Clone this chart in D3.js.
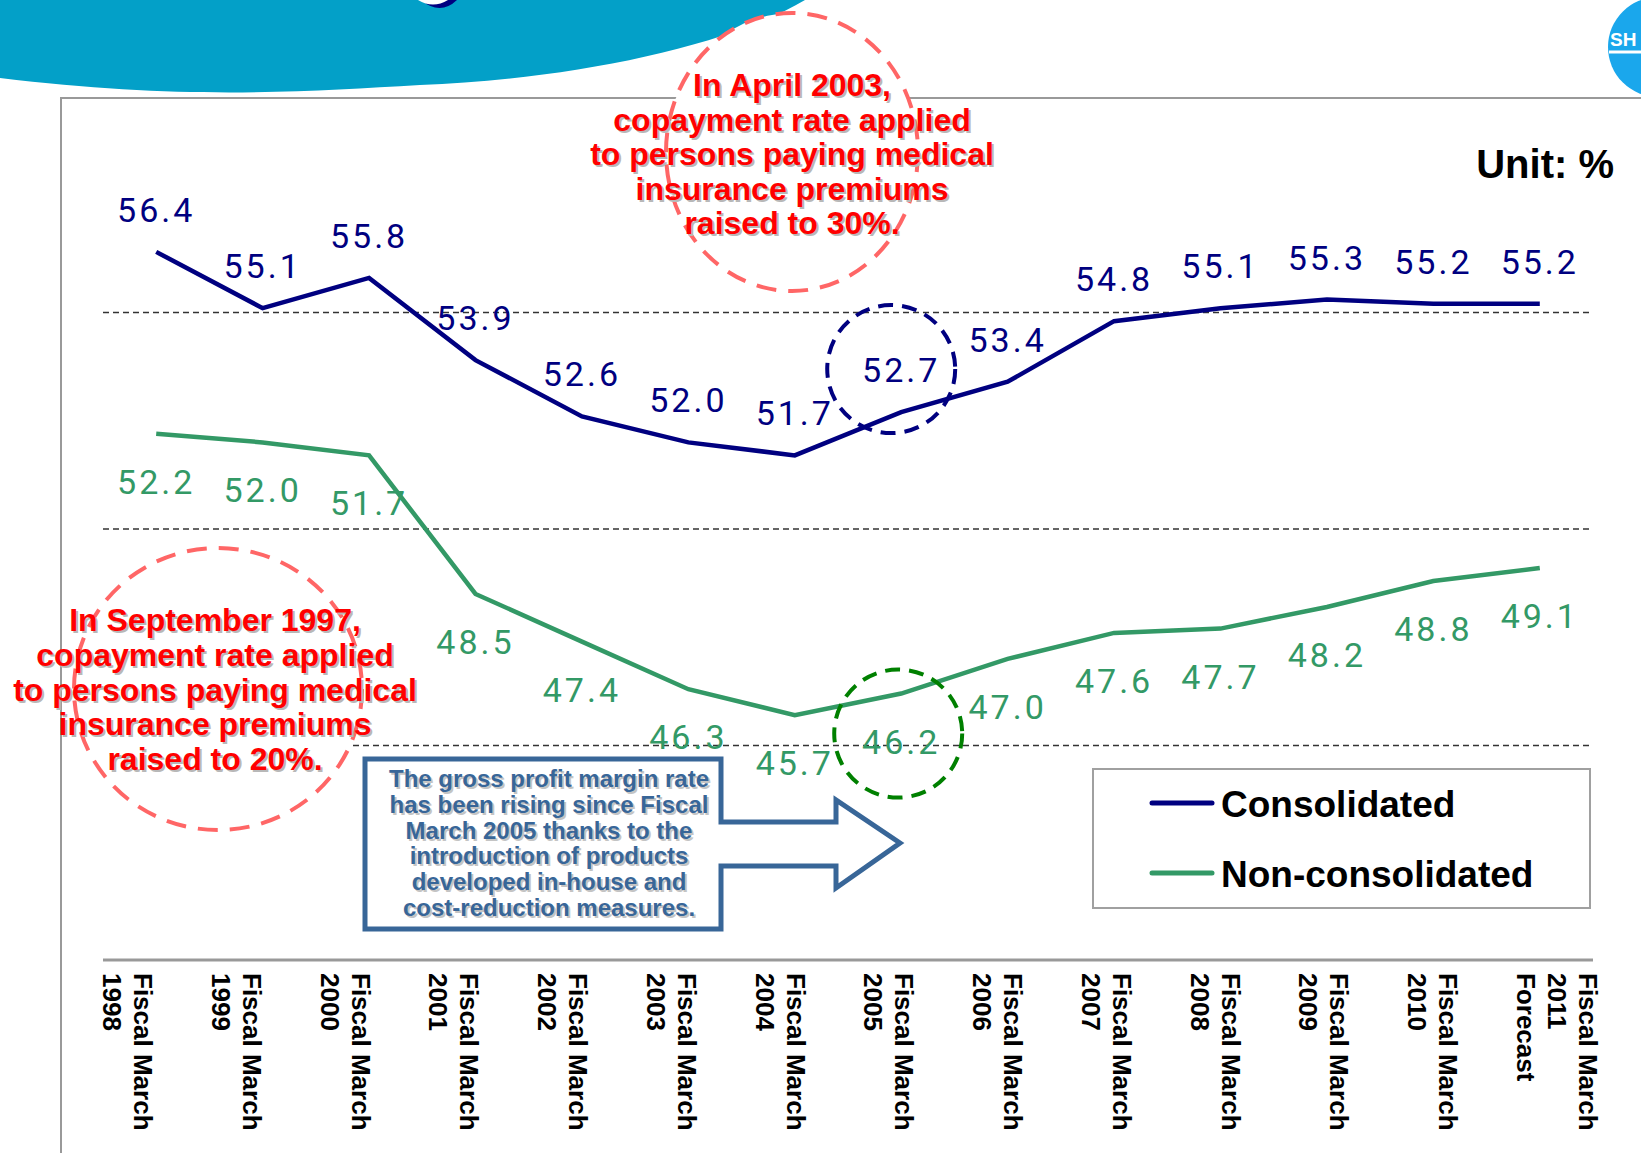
<!DOCTYPE html>
<html>
<head>
<meta charset="utf-8">
<script src="https://cdn.jsdelivr.net/npm/d3@7"></script>
<style>
  body { margin: 0; background: #fff; overflow: hidden; }
  svg { display: block; }
</style>
</head>
<body>
<script>
// CHART DATA
var years = ['1998', '1999', '2000', '2001', '2002', '2003', '2004',
             '2005', '2006', '2007', '2008', '2009', '2010', '2011'];
var tickLabels = [
  ['Fiscal March', '1998'], ['Fiscal March', '1999'], ['Fiscal March', '2000'],
  ['Fiscal March', '2001'], ['Fiscal March', '2002'], ['Fiscal March', '2003'],
  ['Fiscal March', '2004'], ['Fiscal March', '2005'], ['Fiscal March', '2006'],
  ['Fiscal March', '2007'], ['Fiscal March', '2008'], ['Fiscal March', '2009'],
  ['Fiscal March', '2010'], ['Fiscal March', '2011', 'Forecast']
];
var consolidated = [56.4, 55.1, 55.8, 53.9, 52.6, 52.0, 51.7, 52.7, 53.4, 54.8, 55.1, 55.3, 55.2, 55.2];
var nonConsolidated = [52.2, 52.0, 51.7, 48.5, 47.4, 46.3, 45.7, 46.2, 47.0, 47.6, 47.7, 48.2, 48.8, 49.1];
var seriesNames = ['Consolidated', 'Non-consolidated'];
var gridValues = [45, 50, 55];
var note1997 = ['In September 1997,', 'copayment rate applied', 'to persons paying medical',
                'insurance premiums', 'raised to 20%.'];
var note2003 = ['In April 2003,', 'copayment rate applied', 'to persons paying medical',
                'insurance premiums', 'raised to 30%.'];
var noteArrow = ['The gross profit margin rate', 'has been rising since Fiscal',
                 'March 2005 thanks to the', 'introduction of products',
                 'developed in-house and', 'cost-reduction measures.'];

// SETTINGS
var W = 1641, H = 1153;
var colors = { cons: '#000080', non: '#339966', red: '#ff0000', redRing: '#ff6666',
               steel: '#386698', frame: '#999999' };
var sans = '"Liberation Sans", Arial, sans-serif';

var svg = d3.select('body').append('svg').attr('width', W).attr('height', H);

// SCALES
var x = d3.scaleBand().domain(years).range([103, 1593]);
var xc = function (d) { return x(d) + x.bandwidth() / 2; };
var xLab = d3.scalePoint().domain(years).range([103, 1517]);
var y = d3.scaleLinear().domain([40, 60]).range([962, 96]);

// HEADER BANNER (TITLE IS CUT OFF ABOVE THE VIEW, ONLY A GLYPH TAIL SHOWS)
svg.append('path')
  .attr('d', 'M0,0 H805 C720,50 560,80 420,85 C300,92 180,100 0,78 Z')
  .attr('fill', '#03a0c8');
svg.append('path').attr('d', 'M421,0 Q440,16 457,0 Z').attr('fill', '#000080');
svg.append('path').attr('d', 'M418,0 Q433,9 448,0 Z').attr('fill', '#fff');

// LOGO
svg.append('circle').attr('cx', 1658).attr('cy', 47).attr('r', 50).attr('fill', '#1aa7ec');
svg.append('text').attr('x', 1610).attr('y', 46).attr('font-family', sans)
  .attr('font-weight', 'bold').attr('font-size', 19).attr('fill', '#fff').text('SH');
svg.append('line').attr('x1', 1609).attr('x2', W).attr('y1', 52).attr('y2', 52)
  .attr('stroke', '#fff').attr('stroke-width', 3);

// PLOT FRAME
svg.append('path').attr('d', 'M61,' + H + ' V98 H' + W)
  .attr('fill', 'none').attr('stroke', colors.frame).attr('stroke-width', 2);

// GRIDLINES
svg.append('g').selectAll('line').data(gridValues).join('line')
  .attr('x1', 103).attr('x2', 1593)
  .attr('y1', function (d) { return y(d); }).attr('y2', function (d) { return y(d); })
  .attr('stroke', '#333').attr('stroke-width', 1.3).attr('stroke-dasharray', '6,4');

// X AXIS LINE
svg.append('line').attr('x1', 103).attr('x2', 1593).attr('y1', y(40) - 2).attr('y2', y(40) - 2)
  .attr('stroke', colors.frame).attr('stroke-width', 3);

// RED NOTES
function shadowText(g, lines, cx, y0, step, size, fill, shadow) {
  [[2, 2, shadow], [0, 0, fill]].forEach(function (s) {
    g.append('g').selectAll('text').data(lines).join('text')
      .attr('x', cx + s[0])
      .attr('y', function (d, i) { return y0 + i * step + s[1]; })
      .attr('text-anchor', 'middle').attr('font-family', sans)
      .attr('font-weight', 'bold').attr('font-size', size).attr('fill', s[2])
      .text(function (d) { return d; });
  });
}

var notes = svg.append('g');
notes.append('ellipse').attr('cx', 792).attr('cy', 152).attr('rx', 126).attr('ry', 139)
  .attr('fill', '#fff').attr('stroke', colors.redRing).attr('stroke-width', 4)
  .attr('stroke-dasharray', '20,12');
notes.append('ellipse').attr('cx', 218).attr('cy', 689).attr('rx', 144).attr('ry', 141)
  .attr('fill', '#fff').attr('stroke', colors.redRing).attr('stroke-width', 4)
  .attr('stroke-dasharray', '20,12');
shadowText(notes, note2003, 792, 96, 34.5, 32, colors.red, '#b8b8b8');
shadowText(notes, note1997, 215, 631, 34.8, 32, colors.red, '#b8b8b8');

// SERIES LINES
var line = d3.line()
  .x(function (d, i) { return xc(years[i]); })
  .y(function (d) { return y(d); });

svg.append('path').datum(consolidated).attr('d', line)
  .attr('fill', 'none').attr('stroke', colors.cons).attr('stroke-width', 4.5);
svg.append('path').datum(nonConsolidated).attr('d', line)
  .attr('fill', 'none').attr('stroke', colors.non).attr('stroke-width', 4.5);

// DATA LABELS
var labelFont = 'Roboto, "Liberation Sans", sans-serif';
svg.append('g').selectAll('text').data(consolidated).join('text')
  .attr('x', function (d, i) { return xc(years[i]); })
  .attr('y', function (d) { return y(d) - 30; })
  .attr('text-anchor', 'middle').attr('font-family', labelFont).attr('font-size', 34)
  .attr('letter-spacing', 3).attr('fill', colors.cons)
  .text(function (d) { return d.toFixed(1); });
svg.append('g').selectAll('text').data(nonConsolidated).join('text')
  .attr('x', function (d, i) { return xc(years[i]); })
  .attr('y', function (d) { return y(d) + 60; })
  .attr('text-anchor', 'middle').attr('font-family', labelFont).attr('font-size', 34)
  .attr('letter-spacing', 3).attr('fill', colors.non)
  .text(function (d) { return d.toFixed(1); });

// HIGHLIGHT RINGS (FISCAL MARCH 2005)
svg.append('circle').attr('cx', xc('2005') - 10).attr('cy', y(consolidated[7]) - 43).attr('r', 64)
  .attr('fill', 'none').attr('stroke', colors.cons).attr('stroke-width', 4)
  .attr('stroke-dasharray', '15,9');
svg.append('circle').attr('cx', xc('2005') - 3).attr('cy', y(nonConsolidated[7]) + 40).attr('r', 64)
  .attr('fill', 'none').attr('stroke', '#008000').attr('stroke-width', 4)
  .attr('stroke-dasharray', '15,9');

// ARROW CALLOUT
svg.append('path')
  .attr('d', 'M365,759 H721 V822 H836 V800 L900,843 L836,888 V866 H721 V929 H365 Z')
  .attr('fill', '#fff').attr('stroke', colors.steel).attr('stroke-width', 5)
  .attr('stroke-linejoin', 'miter');
shadowText(svg, noteArrow, 549, 787, 25.8, 24, colors.steel, '#c4c4c4');

// UNIT
svg.append('text').attr('x', 1614).attr('y', 178).attr('text-anchor', 'end')
  .attr('font-family', sans).attr('font-weight', 'bold').attr('font-size', 40)
  .attr('fill', '#000').text('Unit: %');

// LEGEND
var legend = svg.append('g');
legend.append('rect').attr('x', 1093).attr('y', 769).attr('width', 497).attr('height', 139)
  .attr('fill', '#fff').attr('stroke', '#a0a0a0').attr('stroke-width', 2);
var legendItems = legend.selectAll('g').data(seriesNames).join('g')
  .attr('transform', function (d, i) { return 'translate(0,' + (803 + i * 70) + ')'; });
legendItems.append('line').attr('x1', 1152).attr('x2', 1212)
  .attr('stroke', function (d, i) { return i === 0 ? colors.cons : colors.non; })
  .attr('stroke-width', 5).attr('stroke-linecap', 'round');
legendItems.append('text').attr('x', 1221).attr('y', 14)
  .attr('font-family', sans).attr('font-weight', 'bold').attr('font-size', 37)
  .attr('fill', '#000').text(function (d) { return d; });

// X TICK LABELS (ROTATED)
var ticks = svg.append('g').selectAll('text').data(tickLabels).join('text')
  .attr('transform', function (d, i) {
    return 'translate(' + (xLab(years[i]) + (d.length - 1) * 31) + ',973) rotate(90)';
  })
  .attr('font-family', sans).attr('font-weight', 'bold').attr('font-size', 26).attr('fill', '#000');
ticks.selectAll('tspan').data(function (d) { return d; }).join('tspan')
  .attr('x', 0).attr('dy', function (d, i) { return i === 0 ? 0 : 31; })
  .text(function (d) { return d; });
</script>
</body>
</html>
